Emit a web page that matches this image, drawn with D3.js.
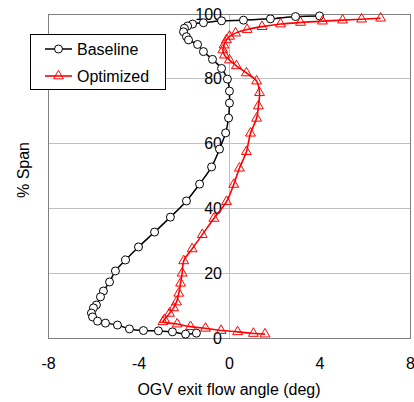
<!DOCTYPE html>
<html>
<head>
<meta charset="utf-8">
<script src="https://cdn.jsdelivr.net/npm/d3@7/dist/d3.min.js"></script>
<style>
  html, body { margin: 0; padding: 0; background: #fff; }
  svg { display: block; font-family: "Liberation Sans", Arial, sans-serif; }
</style>
</head>
<body>
<svg id="chart" width="414" height="402"></svg>
<script>
// ---- data ----
const baselineAngle = [4.00, 2.94, 1.83, 0.64, -0.33, -1.13, -1.61, -1.83, -1.97, -2.01, -1.88, -1.79, -1.39, -1.13, -0.73, -0.33, -0.07, 0.02, 0.02, -0.02, -0.15, -0.42, -0.77, -1.30, -1.88, -2.59, -3.29, -4.00, -4.57, -5.02, -5.28, -5.55, -5.68, -5.86, -5.99, -6.08, -6.03, -5.81, -5.46, -4.93, -4.40, -3.78, -3.12, -2.50, -1.92, -1.44];
const baselineSpan  = [99.4, 99.2, 98.5, 98.1, 97.9, 97.3, 96.9, 96.3, 95.6, 94.5, 93.0, 92.0, 90.6, 88.4, 86.0, 83.2, 79.9, 76.2, 72.5, 67.9, 63.3, 58.3, 52.8, 47.5, 42.3, 37.3, 32.7, 28.1, 24.1, 20.7, 17.3, 14.5, 12.7, 10.2, 9.3, 7.7, 6.5, 5.2, 4.6, 4.0, 2.8, 2.3, 2.2, 1.9, 1.2, 1.5];
const optimizedAngle = [6.70, 5.86, 5.02, 4.13, 3.16, 2.28, 1.46, 0.80, 0.29, 0.02, -0.11, -0.22, -0.27, -0.20, 0.02, 0.33, 0.77, 1.22, 1.35, 1.30, 1.22, 0.95, 0.77, 0.46, 0.21, -0.11, -0.67, -1.18, -1.63, -2.00, -2.07, -2.14, -2.22, -2.32, -2.45, -2.63, -2.85, -2.92, -2.29, -1.70, -1.04, -0.35, 0.38, 1.08, 1.59];
const optimizedSpan  = [98.7, 98.4, 98.1, 97.8, 97.4, 96.9, 96.1, 95.2, 94.1, 93.1, 92.0, 90.4, 88.9, 87.3, 85.8, 84.0, 81.8, 79.3, 75.7, 71.6, 67.8, 63.2, 57.5, 52.4, 47.4, 42.1, 36.9, 31.9, 27.5, 23.8, 20.0, 16.9, 13.8, 11.1, 9.3, 7.6, 5.7, 5.0, 4.3, 3.5, 3.0, 2.3, 1.9, 1.4, 1.2];
const xTicks = [-8, -4, 0, 4, 8];
const yTicks = [0, 20, 40, 60, 80, 100];
const seriesNames = ["Baseline", "Optimized"];
const xTitle = "OGV exit flow angle (deg)";
const yTitle = "% Span";

// ---- layout ----
const svg = d3.select("#chart");
const pLeft = 48, pRight = 410, pTop = 14, pBottom = 338;
const x = d3.scaleLinear().domain([-8, 8]).range([pLeft, pRight]);
const y = d3.scaleLinear().domain([0, 100]).range([pBottom, pTop]);

const gridColor = "#c0c0c0";
const frameColor = "#808080";
const fmt = d => String(d);

// gridlines
svg.append("g").selectAll("line").data(yTicks.filter(d => d > 0 && d < 100)).join("line")
  .attr("x1", pLeft).attr("x2", pRight)
  .attr("y1", d => y(d)).attr("y2", d => y(d))
  .attr("stroke", gridColor).attr("stroke-width", 1).attr("shape-rendering", "crispEdges");
// vertical zero line
svg.append("line")
  .attr("x1", x(0)).attr("x2", x(0)).attr("y1", pTop).attr("y2", pBottom)
  .attr("stroke", gridColor).attr("stroke-width", 1).attr("shape-rendering", "crispEdges");
// frame
svg.append("rect")
  .attr("x", pLeft).attr("y", pTop).attr("width", pRight - pLeft).attr("height", pBottom - pTop)
  .attr("fill", "none").attr("stroke", frameColor).attr("stroke-width", 1).attr("shape-rendering", "crispEdges");

// axes (labels only)
const yAxis = svg.append("g").attr("transform", `translate(${x(0)},0)`)
  .call(d3.axisLeft(y).tickValues(yTicks).tickSize(0).tickPadding(7).tickFormat(fmt));
yAxis.select(".domain").remove();
yAxis.selectAll("text").attr("font-size", 16).attr("fill", "#000").attr("font-family", "Liberation Sans, Arial, sans-serif");

const xAxis = svg.append("g").attr("transform", `translate(0,${pBottom})`)
  .call(d3.axisBottom(x).tickValues(xTicks).tickSize(0).tickPadding(20).tickFormat(fmt));
xAxis.select(".domain").remove();
xAxis.selectAll("text").attr("font-size", 16).attr("fill", "#000").attr("font-family", "Liberation Sans, Arial, sans-serif");

// titles
svg.append("text").attr("x", (pLeft + pRight) / 2).attr("y", 395)
  .attr("text-anchor", "middle").attr("font-size", 16).text(xTitle);
svg.append("text").attr("transform", "translate(29,170) rotate(-90)")
  .attr("text-anchor", "middle").attr("font-size", 16).text(yTitle);

// series
const base = baselineAngle.map((a, i) => [a, baselineSpan[i]]);
const opt = optimizedAngle.map((a, i) => [a, optimizedSpan[i]]);
const line = d3.line().x(d => x(d[0])).y(d => y(d[1])).curve(d3.curveCatmullRom.alpha(0.5));

svg.append("path").datum(base).attr("d", line)
  .attr("fill", "none").attr("stroke", "#000").attr("stroke-width", 1.5);
svg.append("g").selectAll("circle").data(base).join("circle")
  .attr("cx", d => x(d[0])).attr("cy", d => y(d[1])).attr("r", 4)
  .attr("fill", "#fff").attr("stroke", "#000").attr("stroke-width", 1);

svg.append("path").datum(opt).attr("d", line)
  .attr("fill", "none").attr("stroke", "#ff0000").attr("stroke-width", 1.6);
const tri = d3.symbol().type(d3.symbolTriangle).size(42);
svg.append("g").selectAll("path").data(opt).join("path")
  .attr("d", tri)
  .attr("transform", d => `translate(${x(d[0])},${y(d[1])})`)
  .attr("fill", "none").attr("stroke", "#ff0000").attr("stroke-width", 1);

// legend
const lg = svg.append("g");
lg.append("rect").attr("x", 30.5).attr("y", 34.5).attr("width", 135).attr("height", 55)
  .attr("fill", "#fff").attr("stroke", "#000").attr("stroke-width", 1);
const ly = [49, 76];
lg.append("line").attr("x1", 45).attr("x2", 72).attr("y1", ly[0]).attr("y2", ly[0])
  .attr("stroke", "#000").attr("stroke-width", 1.5);
lg.append("circle").attr("cx", 58.5).attr("cy", ly[0]).attr("r", 4)
  .attr("fill", "#fff").attr("stroke", "#000");
lg.append("line").attr("x1", 45).attr("x2", 72).attr("y1", ly[1]).attr("y2", ly[1])
  .attr("stroke", "#ff0000").attr("stroke-width", 1.6);
lg.append("path").attr("d", tri).attr("transform", `translate(58.5,${ly[1]})`)
  .attr("fill", "none").attr("stroke", "#ff0000");
lg.selectAll("text.lab").data(seriesNames).join("text").attr("class", "lab")
  .attr("x", 77).attr("y", (d, i) => ly[i]).attr("dy", "0.36em")
  .attr("font-size", 16).text(d => d);
</script>
</body>
</html>
